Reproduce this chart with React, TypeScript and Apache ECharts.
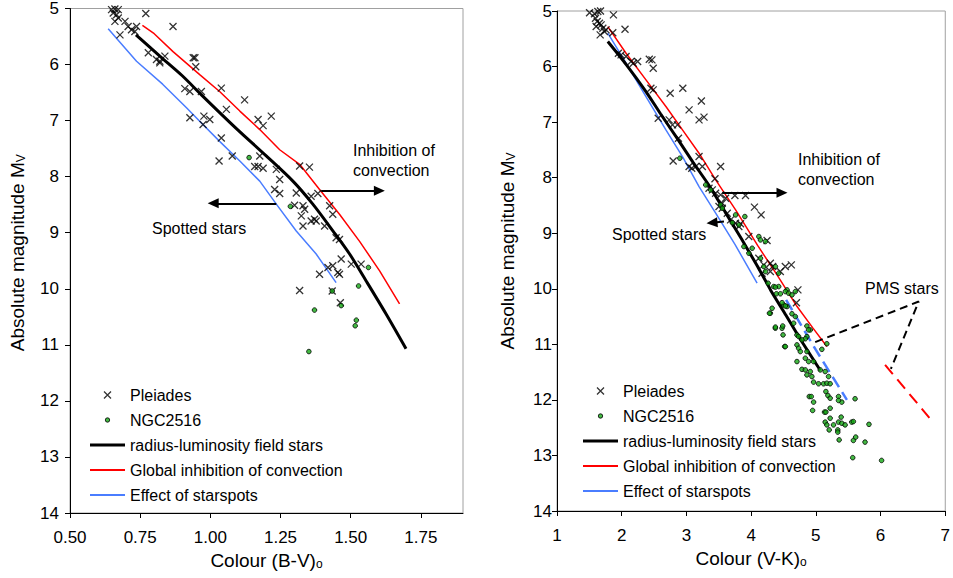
import React, { useEffect, useRef } from 'react';
import * as echarts from 'echarts';

const FONT = "'Liberation Sans', Arial, Helvetica, sans-serif";

// ---- tick labels ----
const bvTicks = [0.5, 0.75, 1.0, 1.25, 1.5, 1.75];
const vkTicks = [1, 2, 3, 4, 5, 6, 7];

// ---- legend names ----
const NAME_PLEIADES = 'Pleiades';
const NAME_NGC = 'NGC2516';
const NAME_RL = 'radius-luminosity field stars';
const NAME_GIC = 'Global inhibition of convection';
const NAME_SPOT = 'Effect of starspots';

// ---- left panel: (B-V)o vs Mv ----
const bvPleiades: number[][] = [
  [0.648, 5.02], [0.660, 5.01], [0.672, 5.02], [0.654, 5.08], [0.666, 5.11], [0.660, 5.23], [0.672, 5.17],
  [0.696, 5.23], [0.707, 5.32], [0.719, 5.38], [0.731, 5.41], [0.737, 5.32], [0.678, 5.47], [0.770, 5.09],
  [0.867, 5.32], [0.779, 5.79], [0.808, 5.91], [0.820, 5.94], [0.838, 5.85], [0.820, 5.97], [0.939, 5.88],
  [0.945, 5.88], [0.948, 6.04], [0.909, 6.43], [0.927, 6.48], [0.968, 6.48], [1.039, 6.42], [1.057, 6.80],
  [1.122, 6.63], [0.927, 6.95], [0.977, 6.92], [0.974, 7.07], [0.998, 6.98], [1.039, 7.31], [1.031, 7.72],
  [1.078, 7.63], [1.170, 6.98], [1.188, 7.09], [1.217, 6.92], [1.176, 7.63], [1.158, 7.82], [1.170, 7.82],
  [1.188, 7.85], [1.318, 7.81], [1.353, 7.83], [1.235, 7.87], [1.247, 8.05], [1.229, 8.23], [1.247, 8.30],
  [1.306, 8.29], [1.359, 8.35], [1.383, 8.30], [1.300, 8.51], [1.330, 8.52], [1.336, 8.58], [1.324, 8.70],
  [1.330, 8.88], [1.359, 8.79], [1.371, 8.76], [1.377, 8.79], [1.407, 8.88], [1.425, 8.52], [1.436, 8.67],
  [1.448, 9.09], [1.460, 9.12], [1.466, 9.47], [1.502, 9.56], [1.537, 9.56], [1.389, 9.74], [1.419, 9.62],
  [1.436, 9.59], [1.454, 9.71], [1.460, 9.74], [1.318, 10.03], [1.434, 10.04], [1.463, 10.25],
];
const bvNgc: number[][] = [
  [1.138, 7.66], [1.285, 8.53], [1.563, 9.62], [1.528, 9.95], [1.434, 10.04], [1.371, 10.38],
  [1.466, 10.30], [1.520, 10.56], [1.516, 10.66], [1.351, 11.12],
];
const bvRadiusLum: number[][] = [
  [0.735, 5.47], [0.82, 5.85], [0.9, 6.2], [0.97, 6.55], [1.09, 7.13], [1.199, 7.63], [1.294, 8.08],
  [1.365, 8.49], [1.437, 8.97], [1.496, 9.38], [1.555, 9.86], [1.626, 10.45], [1.697, 11.07],
];
const bvInhibition: number[][] = [
  [0.758, 5.3], [0.8, 5.45], [0.867, 5.77], [0.962, 6.18], [1.033, 6.48], [1.105, 6.83], [1.176, 7.16],
  [1.247, 7.52], [1.318, 7.78], [1.389, 8.23], [1.46, 8.67], [1.531, 9.15], [1.603, 9.68], [1.674, 10.27],
];
const bvStarspots: number[][] = [
  [0.636, 5.36], [0.737, 5.94], [0.83, 6.35], [0.915, 6.77], [0.962, 7.01], [1.033, 7.37], [1.105, 7.72],
  [1.176, 8.08], [1.235, 8.49], [1.306, 8.97], [1.377, 9.38], [1.448, 9.89],
];
// annotation arrows (data coordinates): [start, end]
const bvArrowInhibition = [[1.395, 8.25], [1.602, 8.25]];
const bvArrowSpotted = [[1.235, 8.475], [1.01, 8.475]];

// ---- right panel: (V-K)o vs Mv ----
const vkPleiades: number[][] = [
  [1.503, 5.03], [1.579, 5.05], [1.631, 5.01], [1.672, 5.0], [1.595, 5.13], [1.621, 5.19], [1.656, 5.22],
  [1.605, 5.28], [1.682, 5.25], [1.708, 5.31], [1.667, 5.43], [1.733, 5.37], [1.759, 5.34], [1.862, 5.39],
  [1.872, 5.07], [2.051, 5.33], [1.949, 5.76], [1.990, 5.79], [2.067, 5.82], [2.144, 5.91], [2.179, 5.94],
  [2.246, 5.91], [2.426, 5.87], [2.467, 5.88], [2.487, 6.03], [2.451, 6.39], [2.487, 6.42], [2.749, 6.48],
  [2.944, 6.39], [3.041, 6.78], [3.231, 6.62], [3.195, 6.96], [3.272, 6.91], [2.564, 6.93], [2.733, 6.96],
  [2.785, 7.05], [2.862, 7.05], [2.877, 7.29], [2.795, 7.70], [3.041, 7.80], [3.082, 7.83], [3.195, 7.62],
  [3.144, 7.80], [3.246, 7.80], [3.528, 7.80], [3.441, 8.02], [3.349, 8.19], [3.4, 8.22], [3.451, 8.28],
  [3.528, 8.31], [3.605, 8.37], [3.749, 8.32], [3.913, 8.32], [3.554, 8.46], [3.503, 8.52], [3.554, 8.55],
  [3.631, 8.64], [4.051, 8.53], [4.154, 8.67], [3.682, 8.76], [3.759, 8.82], [3.836, 8.83], [3.810, 8.88],
  [3.964, 9.06], [4.246, 9.13], [4.118, 9.45], [4.195, 9.57], [4.297, 9.54], [4.297, 9.69], [4.169, 9.72],
  [4.333, 9.60], [4.451, 9.69], [4.528, 9.60], [4.621, 9.57], [4.723, 10.02], [4.70, 10.25],
];
const vkNgc: number[][] = [
  [2.898, 7.65], [3.298, 8.13], [3.375, 8.22], [3.529, 8.49], [3.555, 8.55], [3.76, 8.67], [3.903, 8.70],
  [3.709, 8.81], [3.811, 8.85], [4.119, 9.06], [4.144, 9.12], [4.221, 9.15], [3.888, 9.24], [4.016, 9.27],
  [3.965, 9.36], [4.144, 9.45], [4.196, 9.60], [4.221, 9.69], [4.375, 9.60], [4.426, 9.72], [4.349, 9.96],
  [4.426, 9.96], [4.555, 10.02], [4.529, 10.05], [4.580, 10.08], [4.683, 10.05], [4.503, 10.29], [4.555, 10.32],
  [4.262, 9.90], [4.374, 9.97], [4.297, 10.44], [4.374, 10.71], [4.518, 11.04], [4.477, 10.71],
  [4.390, 10.09], [4.452, 10.09], [4.631, 10.11], [4.478, 10.25], [4.529, 10.31], [4.324, 10.35],
  [4.283, 10.44], [4.631, 10.45], [4.683, 10.50], [4.375, 10.69], [4.488, 10.67], [4.657, 10.62],
  [4.862, 10.67], [4.914, 10.74], [4.888, 10.74], [4.493, 10.83], [4.708, 10.83], [4.734, 10.86],
  [4.862, 10.86], [4.837, 10.90], [4.785, 10.92], [4.529, 11.04], [4.708, 11.01], [4.734, 11.07],
  [4.760, 11.13], [4.862, 11.13], [5.170, 10.99], [5.093, 11.09], [4.708, 11.31], [4.837, 11.25],
  [4.888, 11.31], [4.965, 11.31], [4.785, 11.45], [4.837, 11.46], [4.914, 11.49], [4.862, 11.55],
  [4.939, 11.58], [5.068, 11.46], [5.144, 11.49], [5.196, 11.58], [4.965, 11.68], [5.042, 11.71],
  [5.119, 11.71], [5.170, 11.70], [5.221, 11.71], [5.155, 11.85], [5.186, 11.92], [5.221, 11.97],
  [5.350, 11.94], [5.401, 12.04], [5.350, 12.01], [5.606, 11.98], [4.898, 11.94], [4.929, 11.94],
  [4.965, 12.04], [4.950, 12.19], [5.134, 12.22], [5.155, 12.22], [5.221, 12.15], [5.221, 12.33],
  [5.144, 12.40], [5.170, 12.45], [5.273, 12.45], [5.350, 12.40], [5.401, 12.42], [5.452, 12.45],
  [5.391, 12.31], [5.555, 12.40], [5.580, 12.39], [5.821, 12.44], [5.206, 12.54], [5.339, 12.54],
  [5.339, 12.58], [5.580, 12.73], [5.616, 12.67], [5.360, 12.72], [5.760, 12.76], [5.570, 13.04],
  [6.016, 13.09],
];
const vkRadiusLum: number[][] = [
  [1.785, 5.55], [2.067, 5.96], [2.375, 6.45], [2.6, 6.85], [2.85, 7.28], [3.1, 7.72], [3.35, 8.14],
  [3.6, 8.62], [3.85, 9.1], [4.1, 9.6], [4.3, 10.02], [4.55, 10.5], [4.8, 10.98], [5.07, 11.47],
];
const vkInhibition: number[][] = [
  [1.785, 5.28], [2.067, 5.76], [2.375, 6.24], [2.683, 6.72], [2.939, 7.14], [3.195, 7.56], [3.452, 8.04],
  [3.76, 8.58], [4.1, 9.22], [4.4, 9.75], [4.71, 10.32], [4.95, 10.7], [5.17, 11.04],
];
const vkStarspots: number[][] = [
  [1.785, 5.4], [2.067, 5.94], [2.375, 6.54], [2.683, 7.14], [2.939, 7.62], [3.195, 8.16], [3.452, 8.64],
  [3.75, 9.2], [4.092, 9.9],
];
const vkStarspotsPms: number[][] = [[4.54, 10.2], [5.0, 11.1], [5.48, 12.0]];
const vkInhibitionPms: number[][] = [[6.07, 11.37], [6.76, 12.33]];
const vkPmsPointer: number[][] = [[4.99, 10.96], [6.59, 10.23], [6.16, 11.44]];
const vkArrowInhibition = [[3.554, 8.27], [4.477, 8.27]];
const vkArrowSpotted = [[3.58, 8.79], [3.395, 8.81]];

const CROSS = 'path://M0,0L10,10M10,0L0,10';
const BLUE = '#4a7dff';
const RED = '#ff0000';
const GREEN = '#14a814';

function legendItems() {
  return [
    { name: NAME_PLEIADES, icon: 'path://M0,0M14,14M3.5,3.5L10.5,10.5M10.5,3.5L3.5,10.5', itemStyle: { color: 'rgba(0,0,0,0)', borderColor: '#000', borderWidth: 1.3 } },
    { name: NAME_NGC, icon: 'path://M0,0M14,14M4.8,7A2.2,2.2 0 1 1 9.2,7A2.2,2.2 0 1 1 4.8,7Z', itemStyle: { color: GREEN, borderColor: '#000', borderWidth: 1 } },
    { name: NAME_RL, icon: 'path://M0,0H35V3.2H0Z', itemStyle: { color: '#000', borderWidth: 0 } },
    { name: NAME_GIC, icon: 'path://M0,0H35V2H0Z', itemStyle: { color: RED, borderWidth: 0 } },
    { name: NAME_SPOT, icon: 'path://M0,0H35V2H0Z', itemStyle: { color: BLUE, borderWidth: 0 } },
  ];
}

const subRich = {
  sub: { fontSize: 12, lineHeight: 6, verticalAlign: 'bottom', fontFamily: FONT, color: '#000' },
};

function xAxisCfg(gridIndex: number, min: number, max: number, interval: number, ticks: number[], name: string, fmt: (v: number) => string) {
  return {
    type: 'value', gridIndex, min, max, interval,
    axisLine: { show: true, lineStyle: { color: '#000', width: 1 } },
    axisTick: { show: true, inside: false, length: 5, lineStyle: { color: '#000' }, customValues: ticks },
    axisLabel: { customValues: ticks, formatter: fmt, fontSize: 17, color: '#000', fontFamily: FONT, margin: 16 },
    splitLine: { show: false },
    name, nameLocation: 'middle', nameGap: 38,
    nameTextStyle: { fontSize: 19, color: '#000', fontFamily: FONT, rich: subRich },
  };
}

function yAxisCfg(gridIndex: number, labelMargin: number, nameGap: number, shift: number) {
  return {
    type: 'value', gridIndex, min: 5, max: 14, interval: 1, inverse: true,
    axisLine: { show: true, lineStyle: { color: '#000', width: 1 } },
    axisTick: { show: true, inside: false, length: 5, lineStyle: { color: '#000' } },
    axisLabel: { fontSize: 17, color: '#000', fontFamily: FONT, margin: labelMargin },
    splitLine: { show: false },
    name: 'Absolute magnitude M{sub|V}', nameLocation: 'middle', nameGap, nameRotate: 90,
    nameTextStyle: { fontSize: 19, color: '#000', fontFamily: FONT, padding: [0, 0, 0, shift], rich: subRich },
  };
}

function lineSeries(name: string, data: number[][], idx: number, color: string, width: number, type: any = 'solid', extra: any = {}) {
  return {
    type: 'line', name, data, xAxisIndex: idx, yAxisIndex: idx,
    symbol: 'none', showSymbol: false, smooth: false,
    lineStyle: { color, width, type },
    itemStyle: { color },
    emphasis: { disabled: true }, silent: true, z: 2,
    ...extra,
  };
}

function arrowMarkLine(arrows: number[][][]) {
  return {
    silent: true,
    symbol: ['none', 'triangle'],
    symbolSize: [10, 11],
    label: { show: false },
    lineStyle: { color: '#000', width: 2, type: 'solid' },
    emphasis: { disabled: true },
    data: arrows.map((a) => [{ coord: a[0] }, { coord: a[1] }]),
  };
}

function crossSeries(data: number[][], idx: number) {
  return {
    type: 'scatter', name: NAME_PLEIADES, data, xAxisIndex: idx, yAxisIndex: idx,
    symbol: CROSS, symbolSize: 7,
    itemStyle: { color: 'rgba(0,0,0,0)', borderColor: '#000', borderWidth: 1.3 },
    emphasis: { disabled: true }, silent: true, z: 3,
  };
}

function dotSeries(data: number[][], idx: number) {
  return {
    type: 'scatter', name: NAME_NGC, data, xAxisIndex: idx, yAxisIndex: idx,
    symbol: 'circle', symbolSize: 4.6,
    itemStyle: { color: GREEN, borderColor: '#000', borderWidth: 1 },
    emphasis: { disabled: true }, silent: true, z: 4,
  };
}

function buildOption() {
  const legendCommon = {
    orient: 'vertical', itemWidth: 35, itemHeight: 14, itemGap: 9, padding: 0,
    selectedMode: false,
    textStyle: { fontSize: 16, color: '#000', fontFamily: FONT },
    data: legendItems(),
  };
  const annot = (text: string, x: number, y: number) => ({
    type: 'text', x, y, silent: true,
    style: { text, fontSize: 16, fontFamily: FONT, fill: '#000', align: 'left', verticalAlign: 'middle', lineHeight: 20 },
  });
  return {
    animation: false,
    backgroundColor: '#fff',
    textStyle: { fontFamily: FONT },
    grid: [
      { left: 70, top: 7, width: 393, height: 506, show: true, borderColor: '#a0a0a0', borderWidth: 1, backgroundColor: 'transparent' },
      { left: 557, top: 11, width: 390, height: 500, show: true, borderColor: '#a0a0a0', borderWidth: 1, backgroundColor: 'transparent' },
    ],
    xAxis: [
      xAxisCfg(0, 0.5, 1.9, 0.25, bvTicks, 'Colour (B-V){sub|o}', (v: number) => v.toFixed(2)),
      xAxisCfg(1, 1, 7, 1, vkTicks, 'Colour (V-K){sub|o}', (v: number) => String(v)),
    ],
    yAxis: [yAxisCfg(0, 11, 43, 16), yAxisCfg(1, 5, 40, 20)],
    legend: [
      { ...legendCommon, left: 90, top: 387 },
      { ...legendCommon, left: 583, top: 383 },
    ],
    graphic: [
      annot('Inhibition of\nconvection', 353, 160),
      annot('Spotted stars', 152, 228),
      annot('Inhibition of\nconvection', 798, 169),
      annot('Spotted stars', 612, 234),
      annot('PMS stars', 865, 288),
    ],
    series: [
      lineSeries(NAME_SPOT, bvStarspots, 0, BLUE, 1.5),
      lineSeries(NAME_GIC, bvInhibition, 0, RED, 1.5),
      lineSeries(NAME_RL, bvRadiusLum, 0, '#000', 3, 'solid', { smooth: 0.3, markLine: arrowMarkLine([bvArrowInhibition, bvArrowSpotted]) }),
      crossSeries(bvPleiades, 0),
      dotSeries(bvNgc, 0),

      lineSeries(NAME_SPOT, vkStarspots, 1, BLUE, 1.5),
      lineSeries('Starspots (PMS)', vkStarspotsPms, 1, BLUE, 2.5, [12, 6]),
      lineSeries(NAME_GIC, vkInhibition, 1, RED, 1.5),
      lineSeries('Inhibition (PMS)', vkInhibitionPms, 1, RED, 2, [12, 7]),
      lineSeries('PMS stars pointer', vkPmsPointer, 1, '#000', 2, [8, 5]),
      lineSeries(NAME_RL, vkRadiusLum, 1, '#000', 3, 'solid', { smooth: 0.2, markLine: arrowMarkLine([vkArrowInhibition, vkArrowSpotted]) }),
      crossSeries(vkPleiades, 1),
      dotSeries(vkNgc, 1),
    ],
  };
}

export default function App() {
  const ref = useRef<HTMLDivElement>(null);
  useEffect(() => {
    if (!ref.current) return;
    const chart = echarts.init(ref.current, null, { renderer: 'svg' });
    chart.setOption(buildOption() as any);
    return () => chart.dispose();
  }, []);
  return (
    <div
      ref={ref}
      style={{ position: 'fixed', left: 0, top: 0, width: 953, height: 578, background: '#fff' }}
    />
  );
}
